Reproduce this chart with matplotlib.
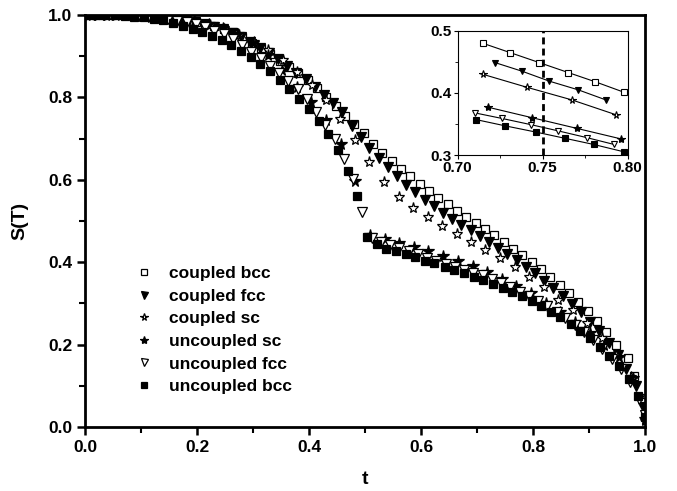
import numpy as np
import matplotlib
matplotlib.use('Agg')
import matplotlib.pyplot as plt

plt.rcParams['font.family'] = ['Liberation Sans', 'DejaVu Sans']
plt.rcParams['font.weight'] = 'bold'

# coupled bcc
t_cbcc = [0.000, 0.015, 0.031, 0.048, 0.065, 0.081, 0.098, 0.115, 0.131, 0.148,
          0.165, 0.181, 0.198, 0.215, 0.231, 0.248, 0.265, 0.281, 0.298, 0.315,
          0.331, 0.348, 0.365, 0.381, 0.398, 0.415, 0.431, 0.448, 0.465, 0.481,
          0.498, 0.515, 0.531, 0.548, 0.565, 0.581, 0.598, 0.615, 0.631, 0.648,
          0.665, 0.681, 0.698, 0.715, 0.731, 0.748, 0.765, 0.781, 0.798, 0.815,
          0.831, 0.848, 0.865, 0.881, 0.898, 0.915, 0.931, 0.949, 0.970, 0.980,
          0.999]
s_cbcc = [1.000, 1.000, 1.000, 1.000, 0.999, 0.999, 0.998, 0.997, 0.995, 0.993,
          0.990, 0.987, 0.984, 0.979, 0.973, 0.966, 0.958, 0.946, 0.932, 0.919,
          0.905, 0.889, 0.873, 0.858, 0.843, 0.822, 0.800, 0.779, 0.756, 0.736,
          0.714, 0.688, 0.664, 0.645, 0.627, 0.608, 0.589, 0.573, 0.557, 0.541,
          0.525, 0.510, 0.495, 0.480, 0.465, 0.449, 0.433, 0.418, 0.401, 0.383,
          0.365, 0.345, 0.325, 0.304, 0.282, 0.258, 0.231, 0.200, 0.168, 0.125,
          0.060]

# coupled fcc
t_cfcc = [0.000, 0.016, 0.033, 0.049, 0.066, 0.082, 0.098, 0.115, 0.131, 0.148,
          0.164, 0.180, 0.197, 0.213, 0.230, 0.246, 0.262, 0.279, 0.295, 0.312,
          0.328, 0.344, 0.361, 0.377, 0.394, 0.410, 0.426, 0.443, 0.459, 0.476,
          0.492, 0.508, 0.525, 0.541, 0.558, 0.574, 0.590, 0.607, 0.623, 0.640,
          0.656, 0.672, 0.689, 0.705, 0.722, 0.738, 0.754, 0.771, 0.787, 0.804,
          0.820, 0.836, 0.853, 0.869, 0.886, 0.902, 0.918, 0.935, 0.951, 0.967,
          0.984, 0.997]
s_cfcc = [1.000, 1.000, 1.000, 1.000, 0.999, 0.999, 0.998, 0.997, 0.995, 0.993,
          0.990, 0.987, 0.983, 0.978, 0.972, 0.965, 0.957, 0.947, 0.935, 0.921,
          0.907, 0.892, 0.876, 0.860, 0.844, 0.826, 0.806, 0.786, 0.764, 0.730,
          0.704, 0.678, 0.654, 0.630, 0.608, 0.587, 0.570, 0.551, 0.536, 0.520,
          0.505, 0.491, 0.477, 0.463, 0.449, 0.435, 0.419, 0.405, 0.389, 0.373,
          0.355, 0.337, 0.317, 0.298, 0.278, 0.255, 0.232, 0.205, 0.175, 0.140,
          0.100, 0.049]

# coupled sc
t_csc = [0.016, 0.042, 0.068, 0.094, 0.120, 0.146, 0.171, 0.197, 0.223, 0.249,
         0.275, 0.301, 0.327, 0.353, 0.379, 0.405, 0.430, 0.456, 0.482, 0.508,
         0.534, 0.560, 0.586, 0.612, 0.638, 0.664, 0.689, 0.715, 0.741, 0.767,
         0.793, 0.819, 0.845, 0.871, 0.897, 0.923, 0.949, 0.975, 1.000]
s_csc = [1.000, 1.000, 0.999, 0.998, 0.997, 0.994, 0.990, 0.984, 0.976, 0.966,
         0.952, 0.935, 0.914, 0.890, 0.862, 0.830, 0.793, 0.747, 0.697, 0.642,
         0.594, 0.559, 0.532, 0.509, 0.489, 0.469, 0.450, 0.430, 0.409, 0.389,
         0.365, 0.339, 0.309, 0.283, 0.253, 0.215, 0.175, 0.122, 0.015]

# uncoupled sc
t_usc = [0.012, 0.038, 0.064, 0.091, 0.117, 0.143, 0.169, 0.195, 0.221, 0.247,
         0.274, 0.300, 0.326, 0.352, 0.378, 0.404, 0.430, 0.457, 0.483, 0.509,
         0.535, 0.561, 0.587, 0.613, 0.640, 0.666, 0.692, 0.718, 0.744, 0.770,
         0.796, 0.823, 0.849, 0.875, 0.901, 0.927, 0.953, 0.979, 1.000]
s_usc = [1.000, 1.000, 0.999, 0.998, 0.996, 0.993, 0.988, 0.985, 0.979, 0.968,
         0.953, 0.932, 0.903, 0.866, 0.826, 0.790, 0.746, 0.687, 0.596, 0.466,
         0.456, 0.446, 0.436, 0.426, 0.415, 0.404, 0.392, 0.377, 0.360, 0.343,
         0.326, 0.302, 0.280, 0.256, 0.229, 0.199, 0.170, 0.118, 0.020]

# uncoupled fcc
t_ufcc = [0.000, 0.017, 0.033, 0.050, 0.066, 0.083, 0.099, 0.116, 0.132, 0.149,
          0.165, 0.182, 0.198, 0.215, 0.231, 0.248, 0.264, 0.281, 0.297, 0.314,
          0.330, 0.347, 0.363, 0.380, 0.396, 0.413, 0.429, 0.446, 0.462, 0.479,
          0.495, 0.512, 0.528, 0.545, 0.561, 0.578, 0.594, 0.611, 0.627, 0.644,
          0.660, 0.677, 0.693, 0.710, 0.726, 0.743, 0.759, 0.776, 0.792, 0.809,
          0.825, 0.842, 0.858, 0.875, 0.891, 0.908, 0.924, 0.941, 0.957, 0.974,
          0.990, 1.000]
s_ufcc = [1.000, 1.000, 1.000, 0.999, 0.999, 0.998, 0.997, 0.995, 0.993, 0.990,
          0.986, 0.982, 0.977, 0.970, 0.962, 0.953, 0.942, 0.927, 0.911, 0.895,
          0.877, 0.859, 0.840, 0.820, 0.797, 0.765, 0.733, 0.700, 0.651, 0.602,
          0.521, 0.458, 0.449, 0.441, 0.434, 0.426, 0.419, 0.411, 0.404, 0.396,
          0.389, 0.382, 0.375, 0.368, 0.359, 0.349, 0.339, 0.328, 0.317, 0.305,
          0.293, 0.279, 0.264, 0.248, 0.231, 0.212, 0.190, 0.166, 0.140, 0.110,
          0.068, 0.030]

# uncoupled bcc
t_ubcc = [0.002, 0.019, 0.036, 0.053, 0.071, 0.088, 0.105, 0.123, 0.140, 0.157,
          0.175, 0.192, 0.209, 0.226, 0.244, 0.261, 0.278, 0.296, 0.313, 0.330,
          0.348, 0.365, 0.382, 0.400, 0.417, 0.434, 0.451, 0.469, 0.486, 0.503,
          0.521, 0.538, 0.555, 0.573, 0.590, 0.607, 0.624, 0.642, 0.659, 0.676,
          0.694, 0.711, 0.728, 0.746, 0.763, 0.780, 0.798, 0.815, 0.832, 0.849,
          0.867, 0.884, 0.901, 0.919, 0.936, 0.953, 0.971, 0.988, 1.000]
s_ubcc = [1.000, 1.000, 0.999, 0.999, 0.998, 0.996, 0.994, 0.991, 0.987, 0.981,
          0.974, 0.966, 0.958, 0.949, 0.939, 0.926, 0.913, 0.897, 0.881, 0.863,
          0.842, 0.820, 0.797, 0.771, 0.743, 0.711, 0.672, 0.622, 0.560, 0.462,
          0.444, 0.432, 0.427, 0.420, 0.412, 0.404, 0.397, 0.389, 0.381, 0.373,
          0.365, 0.357, 0.347, 0.337, 0.327, 0.317, 0.305, 0.293, 0.280, 0.266,
          0.250, 0.234, 0.215, 0.195, 0.172, 0.147, 0.116, 0.075, 0.025]

labels = ['coupled bcc', 'coupled fcc', 'coupled sc',
          'uncoupled sc', 'uncoupled fcc', 'uncoupled bcc']
series = [(t_cbcc, s_cbcc), (t_cfcc, s_cfcc), (t_csc, s_csc),
          (t_usc, s_usc), (t_ufcc, s_ufcc), (t_ubcc, s_ubcc)]
# marker, face colour, main size, inset size
styles = [('s', 'white', 6.2, 4.2),
          ('v', 'black', 7.2, 5.0),
          ('*', 'white', 8.0, 5.5),
          ('*', 'black', 8.5, 6.0),
          ('v', 'white', 7.2, 5.0),
          ('s', 'black', 6.2, 4.2)]

fig = plt.figure(figsize=(6.77, 4.91), dpi=100)
ax = fig.add_axes([0.1256, 0.1303, 0.8271, 0.8392])
ins = fig.add_axes([0.676, 0.6843, 0.2512, 0.2526])

for (t, s), lab, (m, fc, ms, ms_in) in zip(series, labels, styles):
    ax.plot(t, s, ls='none', marker=m, mfc=fc, mec='black', mew=0.9,
            ms=ms, label=lab)
    t = np.array(t)
    s = np.array(s)
    sel = (t >= 0.708) & (t <= 0.80)
    ins.plot(t[sel], s[sel], color='black', lw=0.8, marker=m, mfc=fc,
             mec='black', mew=0.8, ms=ms_in)

# main axes
ax.set_xlim(0, 1.0)
ax.set_ylim(0, 1.0)
ax.set_xticks(np.arange(0, 1.01, 0.2))
ax.set_yticks(np.arange(0, 1.01, 0.2))
ax.set_xticks(np.arange(0.1, 1.0, 0.2), minor=True)
ax.set_yticks(np.arange(0.1, 1.0, 0.2), minor=True)
ax.xaxis.set_major_formatter(matplotlib.ticker.FormatStrFormatter('%.1f'))
ax.yaxis.set_major_formatter(matplotlib.ticker.FormatStrFormatter('%.1f'))
ax.tick_params(which='major', direction='out', length=6, width=1.8,
               labelsize=12.5, pad=3)
ax.tick_params(which='minor', direction='out', length=4, width=1.5)
for sp in ax.spines.values():
    sp.set_linewidth(2.0)
ax.set_xlabel('t', fontsize=14, fontweight='bold', labelpad=12)
ax.set_ylabel('S(T)', fontsize=14, fontweight='bold', labelpad=14)

leg = ax.legend(loc='upper left', bbox_to_anchor=(0.075, 0.412), frameon=False,
                fontsize=12.5, handlelength=1.0, handletextpad=0.9,
                labelspacing=0.43, borderpad=0, markerscale=0.7)

# inset
ins.set_xlim(0.70, 0.80)
ins.set_ylim(0.30, 0.50)
ins.set_xticks([0.70, 0.75, 0.80])
ins.set_xticks([0.725, 0.775], minor=True)
ins.set_yticks([0.3, 0.4, 0.5])
ins.set_yticks([0.35, 0.45], minor=True)
ins.xaxis.set_major_formatter(matplotlib.ticker.FormatStrFormatter('%.2f'))
ins.yaxis.set_major_formatter(matplotlib.ticker.FormatStrFormatter('%.1f'))
ins.tick_params(which='major', direction='out', length=3, width=0.8,
                labelsize=11, pad=1)
ins.tick_params(which='minor', direction='out', length=2, width=0.6)
for sp in ins.spines.values():
    sp.set_linewidth(0.8)
ins.axvline(0.75, color='black', ls=(0, (2.5, 1.5)), lw=2.0)

fig.savefig('out.png', dpi=100)
